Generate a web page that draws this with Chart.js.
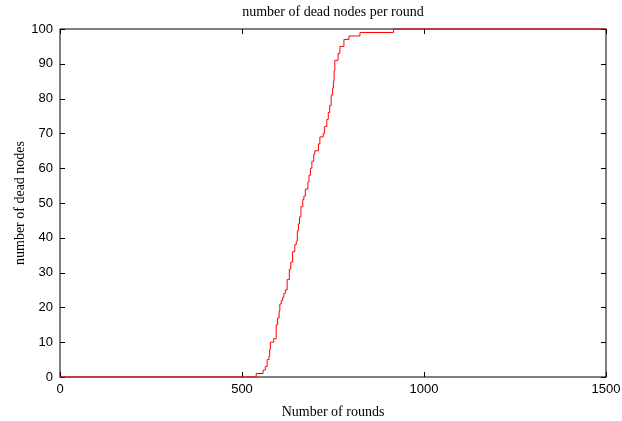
<!DOCTYPE html>
<html lang="en">
<head>
  <meta charset="UTF-8">
  <title>Dead Nodes per Round</title>
  <script src="https://cdn.jsdelivr.net/npm/chart.js"></script>
  <style>
    html, body { margin: 0; padding: 0; background: #fff; }
    #wrap { width: 622px; height: 421px; }
  </style>
</head>
<body>
<div id="wrap"><canvas id="deadChart"></canvas></div>
<script>
// round at which the count of dead nodes reaches the value below
const rounds = [0, 539, 558, 564, 569, 574, 576, 578, 587, 594, 598, 602, 604, 608, 612, 615, 619,
  624, 630, 634, 639, 645, 649, 652, 655, 658, 662, 667, 670, 674, 681, 684, 688, 692, 697, 700,
  710, 714, 723, 727, 733, 737, 741, 745, 749, 751, 753, 755, 764, 769, 780, 794, 824, 916, 1500];
const deadNodes = [0, 1, 2, 3, 5, 6, 8, 10, 11, 15, 17, 19, 21, 22, 23, 24, 25,
  28, 31, 33, 36, 38, 39, 42, 44, 46, 49, 51, 52, 54, 56, 58, 60, 62, 64, 65,
  67, 69, 70, 72, 74, 76, 78, 81, 83, 85, 88, 91, 93, 95, 97, 98, 99, 100, 100];
const xTicks = [0, 500, 1000, 1500];
const yTicks = [0, 10, 20, 30, 40, 50, 60, 70, 80, 90, 100];

const serif = '"Liberation Serif", "Times New Roman", serif';
const sans = '"Liberation Sans", Arial, sans-serif';

// matlab style box with inward ticks + title centred on plot area
const boxPlugin = {
  id: 'box',
  beforeDatasetsDraw(chart) {
    const { ctx, chartArea: a, scales } = chart;
    ctx.save();
    ctx.strokeStyle = '#000';
    ctx.lineWidth = 1;
    ctx.strokeRect(a.left, a.top, a.right - a.left, a.bottom - a.top);
    ctx.beginPath();
    xTicks.forEach(v => {
      const x = Math.round(scales.x.getPixelForValue(v)) + 0.5;
      ctx.moveTo(x, a.bottom); ctx.lineTo(x, a.bottom - 5);
      ctx.moveTo(x, a.top); ctx.lineTo(x, a.top + 5);
    });
    yTicks.forEach(v => {
      const y = Math.round(scales.y.getPixelForValue(v)) + 0.5;
      ctx.moveTo(a.left, y); ctx.lineTo(a.left + 5, y);
      ctx.moveTo(a.right, y); ctx.lineTo(a.right - 5, y);
    });
    ctx.stroke();
    ctx.restore();
  },
  afterDraw(chart) {
    const { ctx, chartArea: a } = chart;
    ctx.save();
    ctx.fillStyle = '#000';
    ctx.font = '14px ' + serif;
    ctx.textAlign = 'center';
    ctx.textBaseline = 'middle';
    ctx.fillText('number of dead nodes per round', (a.left + a.right) / 2, 12);
    ctx.restore();
  }
};

new Chart(document.getElementById('deadChart').getContext('2d'), {
  type: 'line',
  data: {
    datasets: [{
      data: rounds.map((r, i) => ({ x: r, y: deadNodes[i] })),
      borderColor: '#ff0000',
      borderWidth: 1,
      pointRadius: 0,
      stepped: 'before',
      fill: false,
      clip: false
    }]
  },
  options: {
    responsive: true,
    maintainAspectRatio: false,
    animation: false,
    layout: { padding: { left: 0, right: 16, top: 29, bottom: 0 } },
    plugins: { legend: { display: false }, tooltip: { enabled: false }, title: { display: false } },
    scales: {
      x: {
        type: 'linear', min: 0, max: 1500,
        afterBuildTicks: s => { s.ticks = xTicks.map(v => ({ value: v })); },
        afterFit: s => { s.height = 44; s.paddingRight = 0; s.paddingLeft = 0; },
        grid: { display: false, drawTicks: false },
        border: { display: false },
        ticks: { color: '#000', padding: 5, maxRotation: 0, callback: v => String(v),
                 font: { family: sans, size: 13 } },
        title: { display: true, text: 'Number of rounds', color: '#000', padding: { top: 4, bottom: 0 },
                 font: { family: serif, size: 14 } }
      },
      y: {
        min: 0, max: 100,
        afterBuildTicks: s => { s.ticks = yTicks.map(v => ({ value: v })); },
        afterFit: s => { s.width = 60; },
        grid: { display: false, drawTicks: false },
        border: { display: false },
        ticks: { color: '#000', padding: 7, font: { family: sans, size: 13 } },
        title: { display: true, text: 'number of dead nodes', color: '#000', padding: { top: 12, bottom: 2 },
                 font: { family: serif, size: 14 } }
      }
    }
  },
  plugins: [boxPlugin]
});
</script>
</body>
</html>
